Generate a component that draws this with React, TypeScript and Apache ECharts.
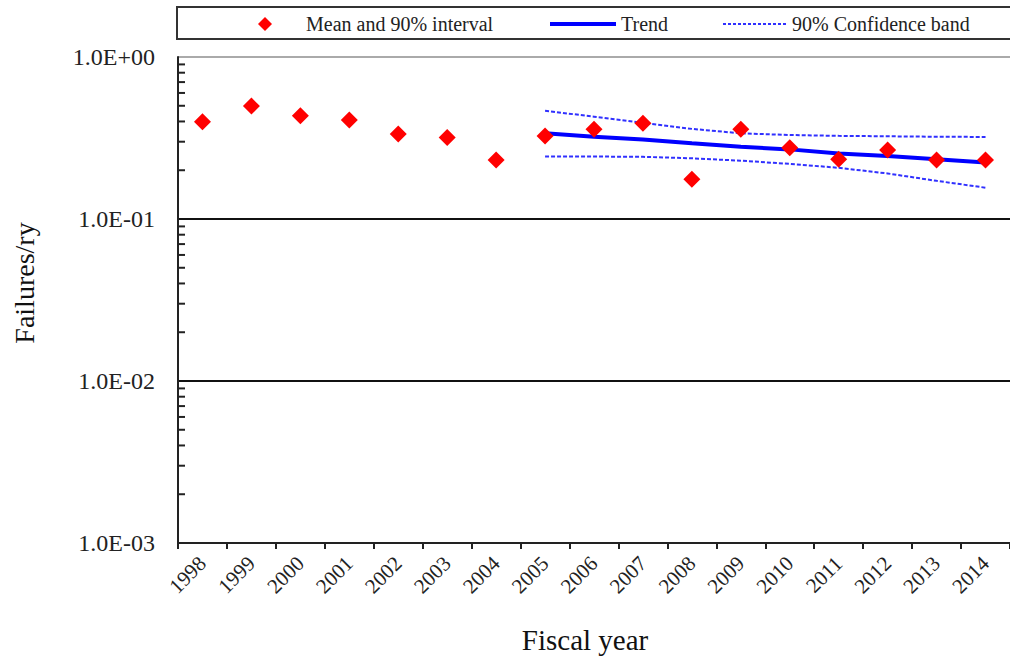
import React, { useEffect, useRef } from "react";
import * as echarts from "echarts";

const years = ["1998", "1999", "2000", "2001", "2002", "2003", "2004", "2005", "2006", "2007", "2008", "2009", "2010", "2011", "2012", "2013", "2014"];
const meanValues = [0.399, 0.498, 0.434, 0.408, 0.335, 0.318, 0.231, 0.325, 0.358, 0.39, 0.176, 0.358, 0.275, 0.234, 0.267, 0.231, 0.231];
const trendYears = ["2005", "2006", "2007", "2008", "2009", "2010", "2011", "2012", "2013", "2014"];
const trendValues = [0.338, 0.322, 0.31, 0.293, 0.279, 0.269, 0.254, 0.245, 0.234, 0.223];
const upperBand = [0.466, 0.428, 0.392, 0.36, 0.338, 0.33, 0.326, 0.324, 0.322, 0.321];
const lowerBand = [0.243, 0.243, 0.242, 0.237, 0.229, 0.219, 0.207, 0.191, 0.172, 0.156];
const minorTickValues = [
  0.002, 0.003, 0.004, 0.005, 0.006, 0.007, 0.008, 0.009,
  0.02, 0.03, 0.04, 0.05, 0.06, 0.07, 0.08, 0.09,
  0.2, 0.3, 0.4, 0.5, 0.6, 0.7, 0.8, 0.9,
];

const FONT = "Liberation Serif";

function onYears(values: number[]) {
  return years.map((y) => {
    const i = trendYears.indexOf(y);
    return i >= 0 ? values[i] : "-";
  });
}

function fmtExp(v: number) {
  const e = Math.round(Math.log10(v));
  const sign = e < 0 ? "-" : "+";
  const a = Math.abs(e);
  return "1.0E" + sign + (a < 10 ? "0" + a : String(a));
}

export default function App() {
  const ref = useRef<HTMLDivElement>(null);
  useEffect(() => {
    if (!ref.current) return;
    const chart = echarts.init(ref.current, null, { renderer: "svg" });
    const legendBase = {
      top: 14,
      padding: 0,
      itemHeight: 14,
      textStyle: { fontFamily: FONT, fontSize: 20, color: "#222" },
      selectedMode: false,
    };
    chart.setOption({
      animation: false,
      textStyle: { fontFamily: FONT },
      grid: { left: 178, right: -9, top: 57, bottom: 120 },
      graphic: [
        {
          type: "rect",
          shape: { x: 177, y: 7, width: 860, height: 32 },
          style: { fill: "none", stroke: "#333", lineWidth: 2 },
          silent: true,
        },
      ],
      legend: [
        {
          ...legendBase,
          left: 258,
          itemWidth: 14,
          data: [{ name: "Mean and 90% interval", icon: "diamond" }],
          itemStyle: { color: "#ff0000", opacity: 1 },
          textStyle: { ...legendBase.textStyle, padding: [0, 0, 0, 29] },
        },
        {
          ...legendBase,
          left: 548,
          itemWidth: 66,
          itemStyle: { opacity: 0 },
          lineStyle: { width: 4, color: "#0000ff" },
          data: ["Trend"],
        },
        {
          ...legendBase,
          left: 722,
          itemWidth: 64,
          itemStyle: { opacity: 0 },
          lineStyle: { width: 2, color: "#3030ff", type: [3, 2] },
          data: ["90% Confidence band"],
        },
      ],
      xAxis: {
        type: "category",
        data: years,
        boundaryGap: true,
        name: "Fiscal year",
        nameLocation: "middle",
        nameGap: 82,
        nameTextStyle: { fontFamily: FONT, fontSize: 29, color: "#111", padding: [0, 18, 0, 0] },
        axisLine: { lineStyle: { color: "#222", width: 2 } },
        axisTick: { show: true, inside: false, length: 6, lineStyle: { color: "#222", width: 2 } },
        axisLabel: { rotate: 45, interval: 0, fontSize: 21, color: "#222", margin: 17, fontFamily: FONT },
        splitLine: { show: false },
      },
      yAxis: {
        type: "log",
        logBase: 10,
        min: 0.001,
        max: 1,
        name: "Failures/ry",
        nameLocation: "middle",
        nameGap: 140,
        nameTextStyle: { fontFamily: FONT, fontSize: 28, color: "#111", padding: [0, 0, 0, 34] },
        axisLine: { show: true, lineStyle: { color: "#222", width: 2 } },
        axisTick: { show: false },
        axisLabel: { fontSize: 24, color: "#222", margin: 23, fontFamily: FONT, formatter: (v: number) => fmtExp(v) },
        splitLine: { show: true, lineStyle: { color: ["#111", "#111", "#111", "#aaa"], width: 2 } },
      },
      series: [
        {
          type: "custom",
          name: "minorTicks",
          silent: true,
          data: minorTickValues.map((v) => [0, v]),
          renderItem: (params: any, api: any) => {
            const y = api.coord([0, api.value(1)])[1];
            const x0 = params.coordSys.x;
            return {
              type: "line",
              shape: { x1: x0, y1: y, x2: x0 + 7, y2: y },
              style: { stroke: "#222", lineWidth: 2 },
            };
          },
          z: 1,
        },
        {
          type: "line",
          name: "90% Confidence band",
          data: onYears(upperBand),
          showSymbol: false,
          symbol: "none",
          lineStyle: { color: "#3030ff", width: 2, type: [4, 2] },
          itemStyle: { color: "#3030ff" },
          z: 3,
        },
        {
          type: "line",
          name: "90% Confidence band",
          data: onYears(lowerBand),
          showSymbol: false,
          symbol: "none",
          lineStyle: { color: "#3030ff", width: 2, type: [4, 2] },
          itemStyle: { color: "#3030ff" },
          z: 3,
        },
        {
          type: "line",
          name: "Trend",
          data: onYears(trendValues),
          showSymbol: false,
          symbol: "none",
          lineStyle: { color: "#0000ff", width: 4 },
          itemStyle: { color: "#0000ff" },
          z: 4,
        },
        {
          type: "scatter",
          name: "Mean and 90% interval",
          data: meanValues,
          symbol: "diamond",
          symbolSize: 17,
          itemStyle: { color: "#ff0000", opacity: 1 },
          z: 5,
        },
      ],
    });
    return () => chart.dispose();
  }, []);
  return (
    <div
      ref={ref}
      style={{ position: "absolute", left: 0, top: 0, width: 1010, height: 663, background: "#fff" }}
    />
  );
}
